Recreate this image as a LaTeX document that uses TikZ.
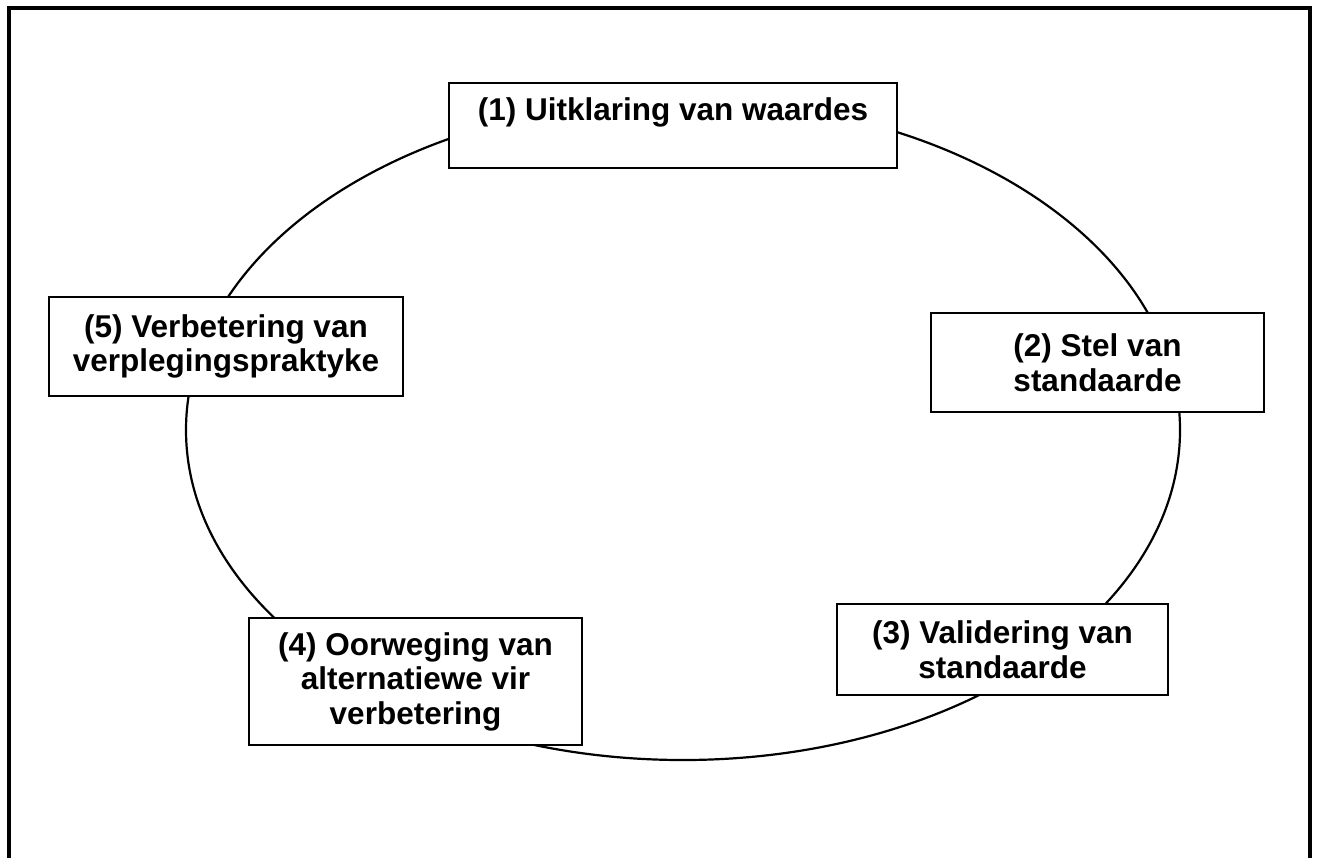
\documentclass[tikz,border=0pt]{standalone}
\usepackage{fontspec}
\setmainfont{Liberation Sans}
\begin{document}
\begin{tikzpicture}[x=0.5pt,y=-0.5pt,
  stage/.style={draw=black, line width=1.2pt, fill=white, inner sep=0pt, align=center,
    font=\bfseries\fontsize{15.75pt}{17.25pt}\selectfont},
  ring/.style={draw=black, line width=1.1pt},
  frameline/.style={draw=black, line width=1.6pt}]
\useasboundingbox (0,0) rectangle (1320,858);
\draw[frameline] (9,858) -- (9,8) -- (1310,8) -- (1310,858);
\draw[ring] (683,430) ellipse [x radius=497, y radius=330];
\node[stage, anchor=base, text height=18.5pt, text depth=24pt, minimum width=224pt] (s1) at (673,120) {(1) Uitklaring van waardes};
\node[stage, minimum width=166.5pt, minimum height=49.5pt] (s2) at (1097.5,362.5) {(2) Stel van\\standaarde};
\node[stage, minimum width=165.5pt, minimum height=45.5pt] (s3) at (1002.5,649.5) {(3) Validering van\\standaarde};
\node[stage, minimum width=166.5pt, minimum height=63.5pt] (s4) at (415.5,681.5) {(4) Oorweging van\\alternatiewe vir\\verbetering};
\node[stage, minimum width=177pt, minimum height=49.5pt] (s5) at (226,346.5) {(5) Verbetering van\\verplegingspraktyke};
\end{tikzpicture}
\end{document}
